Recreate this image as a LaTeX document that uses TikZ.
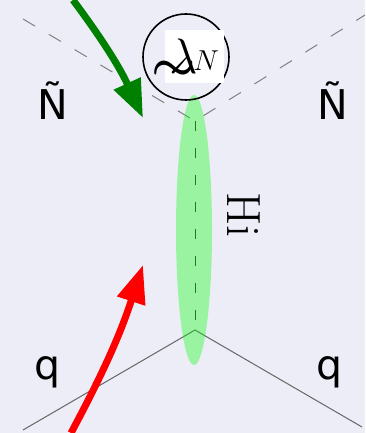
\documentclass[tikz,border=0pt]{standalone}
\usepackage{amsmath}
\usepackage{fontspec}
\newfontfamily\partfont{DejaVu Sans}
\usetikzlibrary{arrows.meta, shapes.geometric}
\definecolor{bgcol}{RGB}{237,237,248}
\definecolor{gluecol}{RGB}{0,128,0}
\definecolor{quarkcol}{RGB}{255,0,0}
\definecolor{blobcol}{RGB}{0,255,0}

\begin{document}
\begin{tikzpicture}[x=0.5pt, y=0.5pt,
  fermline/.style={draw=black!60, line width=0.5pt},
  susyline/.style={draw=black!50, line width=0.5pt, dash pattern=on 7pt off 8pt},
  higgsline/.style={draw=black!80, line width=0.5pt, dash pattern=on 5pt off 8.5pt},
  blob/.style={ellipse, fill=blobcol, fill opacity=0.35, minimum width=18pt, minimum height=135pt, inner sep=0pt},
  coupling/.style={circle, draw=black, line width=0.8pt, minimum size=43pt, inner sep=0pt},
  lambox/.style={fill=white, minimum width=29.5pt, minimum height=26.5pt, inner sep=0pt},
  particle/.style={font=\partfont\fontsize{20.5}{20.5}\selectfont, inner sep=0pt, anchor=base},
  arr/.style={line width=3.5pt, -{Triangle[length=19pt, width=14pt]}}
]
  \fill[bgcol] (0,0) rectangle (365,433);
  \useasboundingbox (0,0) rectangle (365,433);

  % vertices and leg ends
  \coordinate (vbot) at (195,103);
  \coordinate (vtop) at (195,312);
  \coordinate (qin) at (23,3);
  \coordinate (qout) at (362,6);
  \coordinate (nin) at (23,414);
  \coordinate (nout) at (365,418);

  \draw[fermline] (qin) -- (vbot) -- (qout);
  \draw[susyline] (nin) -- (vtop) -- (nout);
  \draw[higgsline] (vtop) -- (vbot);
  \node[blob] (higgs) at (194,203) {};

  % coupling at the upper vertex
  \node[coupling] (vert) at (186,376) {};
  \node[lambox] (lam) at (194.5,376.5) {\raisebox{-1.5pt}{\fontsize{31}{31}\selectfont$\lambda$}\kern-2.5pt{\fontsize{14}{14}\selectfont$N$}};
  \node[font=\fontsize{29}{29}\selectfont, inner sep=0pt] (wave) at (174,362) {$\boldsymbol{\sim}$};

  \node[particle] (nleft) at (53,313) {Ñ};
  \node[particle] (nright) at (333,313) {Ñ};
  \node[particle] (qleft) at (48,53) {q};
  \node[particle] (qright) at (330,53) {q};
  \node[font=\fontsize{24}{24}\selectfont, rotate=-90, anchor=base, inner sep=0pt] (hlabel) at (227,218) {Hi};

  % incoming and outgoing arrows
  \coordinate (gfrom) at (73,433);
  \coordinate (gto) at (143,315);
  \coordinate (rfrom) at (71,0);
  \coordinate (rto) at (143,168);
  \draw[arr, gluecol] (gfrom) to[bend left=6] (gto);
  \draw[arr, quarkcol] (rfrom) to[bend right=5] (rto);
\end{tikzpicture}
\end{document}
